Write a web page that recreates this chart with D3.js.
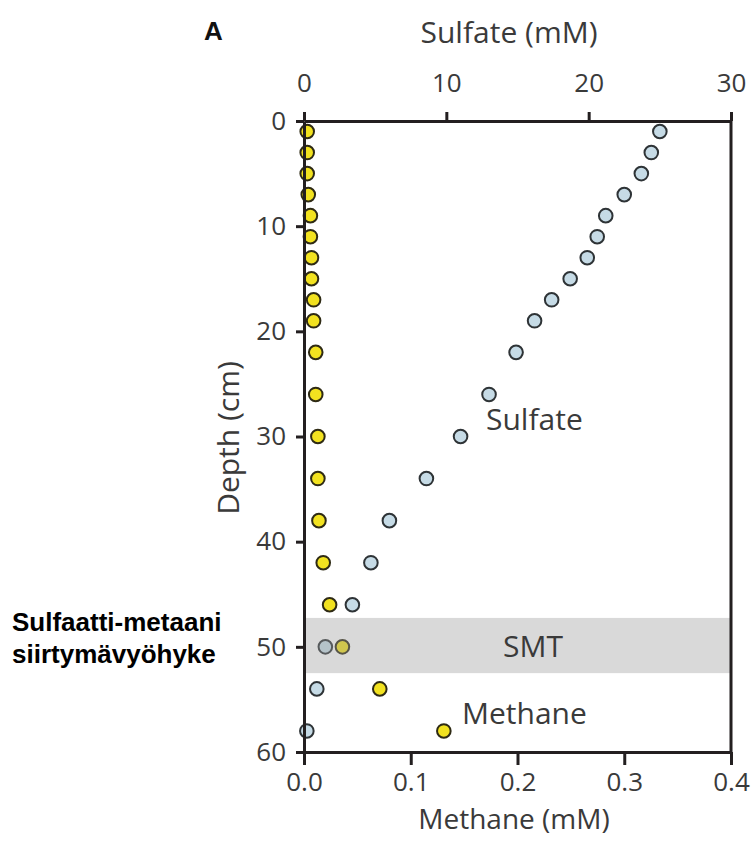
<!DOCTYPE html>
<html>
<head>
<meta charset="utf-8">
<script src="https://cdn.jsdelivr.net/npm/d3@7"></script>
<style>
  html, body { margin: 0; padding: 0; background: #fff; }
  svg { display: block; }
  .tick text { font-family: "Open Sans", "Noto Sans", sans-serif; fill: #3a3a3a; }
</style>
</head>
<body>
<svg id="chart" width="751" height="842"></svg>
<script>
// Porewater profile: sampling depths (cm) and concentrations (mM)
const depths = [1, 3, 5, 7, 9, 11, 13, 15, 17, 19, 22, 26, 30, 34, 38, 42, 46, 50, 54, 58];
const sulfate = [25.0, 24.4, 23.7, 22.5, 21.2, 20.6, 19.9, 18.7, 17.4, 16.2, 14.9, 13.0, 11.0, 8.6, 6.0, 4.7, 3.4, 1.5, 0.9, 0.2];
const methane = [0.003, 0.003, 0.003, 0.004, 0.006, 0.006, 0.007, 0.007, 0.009, 0.009, 0.011, 0.011, 0.013, 0.013, 0.014, 0.018, 0.024, 0.036, 0.071, 0.131];

// Sulfate–methane transition zone (depth range, cm)
const smtRange = [47.25, 52.5];

const depthTicks = [0, 10, 20, 30, 40, 50, 60];
const sulfateTicks = [0, 10, 20, 30];
const methaneTicks = [0.0, 0.1, 0.2, 0.3, 0.4];

const svg = d3.select("#chart");
const plotLeft = 304, plotRight = 731, plotTop = 121, plotBottom = 752;

const y = d3.scaleLinear().domain([0, 60]).range([plotTop, plotBottom]);
const xS = d3.scaleLinear().domain([0, 30]).range([plotLeft, plotRight]);
const xM = d3.scaleLinear().domain([0, 0.4]).range([plotLeft, plotRight]);

const axisColor = "#231f20";
const textColor = "#3a3a3a";
const font = '"Open Sans", "Noto Sans", sans-serif';

// data points
const rows = depths.map((d, i) => ({ depth: d, so4: sulfate[i], ch4: methane[i] }));

svg.append("g").selectAll("circle").data(rows).join("circle")
  .attr("cx", d => xS(d.so4)).attr("cy", d => y(d.depth)).attr("r", 6.8)
  .attr("fill", "#c6dbe6").attr("stroke", "#2e3336").attr("stroke-width", 2);

svg.append("g").selectAll("circle").data(rows).join("circle")
  .attr("cx", d => xM(d.ch4)).attr("cy", d => y(d.depth)).attr("r", 6.8)
  .attr("fill", "#f2e220").attr("stroke", "#2e2a14").attr("stroke-width", 2);

// SMT band (translucent so markers inside show through muted)
svg.append("rect")
  .attr("x", plotLeft).attr("y", y(smtRange[0]))
  .attr("width", plotRight - plotLeft).attr("height", y(smtRange[1]) - y(smtRange[0]))
  .attr("fill", "#9c9c9c").attr("opacity", 0.38);

// frame
function styleAxis(g) {
  g.select(".domain").attr("stroke", axisColor).attr("stroke-width", 3);
  g.selectAll(".tick line").attr("stroke", axisColor).attr("stroke-width", 3);
  g.selectAll(".tick text").attr("font-size", 26);
}

svg.append("line").attr("x1", plotRight).attr("x2", plotRight).attr("y1", plotTop).attr("y2", plotBottom)
  .attr("stroke", axisColor).attr("stroke-width", 3);

svg.append("g").attr("transform", `translate(0,${plotTop})`)
  .call(d3.axisTop(xS).tickValues(sulfateTicks).tickSize(9).tickSizeOuter(0).tickPadding(20))
  .call(styleAxis);

svg.append("g").attr("transform", `translate(0,${plotBottom})`)
  .call(d3.axisBottom(xM).tickValues(methaneTicks).tickFormat(d3.format(".1f")).tickSize(13).tickSizeOuter(0).tickPadding(8))
  .call(styleAxis);

svg.append("g").attr("transform", `translate(${plotLeft},0)`)
  .call(d3.axisLeft(y).tickValues(depthTicks).tickSize(8).tickSizeOuter(0).tickPadding(10))
  .call(styleAxis);

// axis titles
svg.append("text").attr("x", 509).attr("y", 43).attr("text-anchor", "middle")
  .attr("font-family", font).attr("font-size", 30).attr("fill", textColor).text("Sulfate (mM)");
svg.append("text").attr("x", 514).attr("y", 829).attr("text-anchor", "middle")
  .attr("font-family", font).attr("font-size", 28).attr("fill", textColor).text("Methane (mM)");
svg.append("text").attr("transform", "translate(239,438) rotate(-90)").attr("text-anchor", "middle")
  .attr("font-family", font).attr("font-size", 30).attr("fill", textColor).text("Depth (cm)");

// panel letter
svg.append("text").attr("x", 204).attr("y", 40)
  .attr("font-family", "Liberation Sans, Arial, sans-serif").attr("font-weight", "bold")
  .attr("font-size", 26).attr("fill", "#111").text("A");

// in-plot labels
svg.append("text").attr("x", 486).attr("y", 430)
  .attr("font-family", font).attr("font-size", 30).attr("fill", textColor).text("Sulfate");
svg.append("text").attr("x", 462).attr("y", 724)
  .attr("font-family", font).attr("font-size", 30).attr("fill", textColor).text("Methane");
svg.append("text").attr("x", 533).attr("y", y((smtRange[0] + smtRange[1]) / 2) + 11).attr("text-anchor", "middle")
  .attr("font-family", font).attr("font-size", 30).attr("fill", textColor).text("SMT");

// side annotation
const note = svg.append("text").attr("font-family", "Liberation Sans, Arial, sans-serif")
  .attr("font-weight", "bold").attr("font-size", 26).attr("fill", "#000");
note.append("tspan").attr("x", 12).attr("y", 631).text("Sulfaatti-metaani");
note.append("tspan").attr("x", 12).attr("y", 663).text("siirtymävyöhyke");
</script>
</body>
</html>
